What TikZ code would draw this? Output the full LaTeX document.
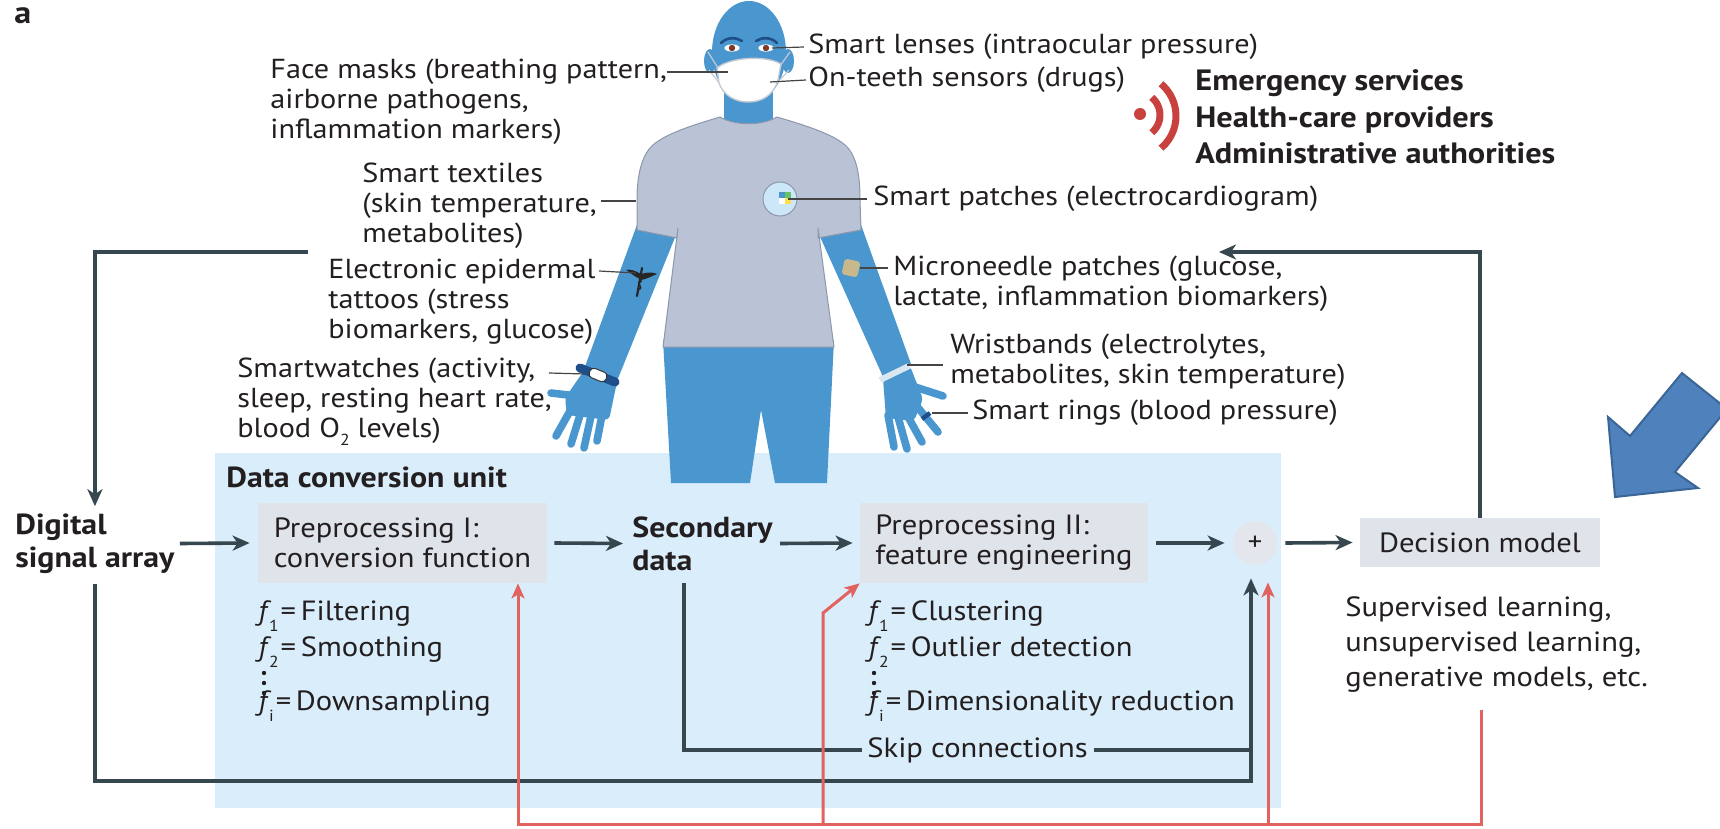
\documentclass[tikz,border=0pt]{standalone}
\usepackage{fontspec}
\setmainfont{PT Sans}[FakeStretch=1.1]
\usetikzlibrary{arrows.meta,calc}

\definecolor{ink}{HTML}{231F20}
\definecolor{skin}{HTML}{4A96CE}
\definecolor{browc}{HTML}{1D4F86}
\definecolor{shirt}{HTML}{B9C3D5}
\definecolor{shirtline}{HTML}{8C97AC}
\definecolor{maskline}{HTML}{C5CBD3}
\definecolor{eyebrown}{HTML}{7A3A2A}
\definecolor{unitbg}{HTML}{DAEDFB}
\definecolor{procfill}{HTML}{DFE3EA}
\definecolor{plusfill}{HTML}{E3E6EC}
\definecolor{dark}{HTML}{37474F}
\definecolor{redl}{HTML}{E2625F}
\definecolor{signalred}{HTML}{C9413E}
\definecolor{leadc}{HTML}{454545}
\definecolor{bluearrow}{HTML}{4F81BD}
\definecolor{bluearrowline}{HTML}{3A6596}
\definecolor{patchbg}{HTML}{CBE7F8}
\definecolor{needle}{HTML}{C8B98C}
\definecolor{bandc}{HTML}{D9E7F1}
\definecolor{watchband}{HTML}{1E4F8A}

\tikzset{
  lbl/.style={font=\fontsize{13.75}{15}\selectfont, text=ink, inner sep=0pt, align=left, anchor=west},
  hdr/.style={font=\bfseries\fontsize{14.5}{16.5}\selectfont, text=ink, inner sep=0pt, align=left, anchor=west},
  txt/.style={font=\fontsize{13.9}{17.5}\selectfont, text=ink, inner sep=0pt, align=left, anchor=west},
  proc/.style={fill=procfill, inner sep=0pt, align=left, text=ink,
    font=\fontsize{13.9}{15}\selectfont},
  conn/.style={draw=dark, line width=1.8pt, -{Stealth[length=8.5pt,width=7.5pt,inset=2.5pt]}},
  plainconn/.style={draw=dark, line width=1.8pt},
  redc/.style={draw=redl, line width=1.5pt},
  redtip/.style={-{Stealth[length=7.5pt,width=6.5pt,inset=2pt]}},
  leader/.style={draw=leadc, line width=0.6pt},
  finger/.style={draw=skin, line width=3.8pt, line cap=round},
}

\newcommand{\fsub}[1]{\textit{f}\kern-1.2pt\raisebox{-0.8ex}{\fontsize{8}{8}\selectfont #1}\kern1pt=\,}

\begin{document}
\begin{tikzpicture}[x=0.5pt,y=-0.5pt]
\fill[white] (0,0) rectangle (1720,829);
\path[use as bounding box] (0,0) rectangle (1720,829);

% panel letter
\node[hdr, font=\bfseries\fontsize{15.5}{15.5}\selectfont] (panel) at (14,16) {a};

% data conversion unit background
\node[fill=unitbg, minimum width=533pt, minimum height=177.5pt, inner sep=0pt,
      anchor=north west] (unit) at (215,453) {};

% ---------------- person ----------------
\begin{scope}[line join=round]
  % arms
  \fill[skin] (638,222) -- (678,230) -- (617,381) -- (583,372) -- cycle;
  \fill[skin] (860,222) -- (911,364) -- (884,379) -- (817,230) -- cycle;
  % left hand
  \fill[skin, rounded corners=2pt] (583,372) -- (617,382) -- (609,420) -- (567,415) -- (565,398) -- cycle;
  \draw[finger] (577,396) -- (551,393);
  \draw[finger] (570,411) -- (556,436);
  \draw[finger] (580,415) -- (571,444);
  \draw[finger] (591,416) -- (584,448);
  \draw[finger] (602,415) -- (597,441);
  % right hand
  \fill[skin, rounded corners=2pt] (883,379) -- (910,366) -- (923,399) -- (914,421) -- (886,418) -- cycle;
  \draw[finger] (912,386) -- (943,396);
  \draw[finger] (888,415) -- (894,447);
  \draw[finger] (898,417) -- (907,449);
  \draw[finger] (907,415) -- (922,442);
  \draw[finger] (915,404) -- (938,432);
  % legs
  \fill[skin] (663,340) -- (834,340) -- (827,483) -- (775,483) -- (761,410)
              -- (750,483) -- (671,483) -- cycle;
  % neck and head
  \fill[skin] (724,85) rectangle (773,125);
  \fill[skin] (749,52) ellipse [x radius=18.5pt, y radius=25.5pt];
  \fill[skin] (710,61) ellipse [x radius=3pt, y radius=6pt];
  \fill[skin] (788,61) ellipse [x radius=3pt, y radius=6pt];
  % eyebrows and eyes
  \draw[browc, line width=1.3pt, line cap=round] (721,43) .. controls (727,37) and (736,37) .. (742,41);
  \draw[browc, line width=1.3pt, line cap=round] (756,41) .. controls (762,37) and (771,37) .. (777,43);
  \fill[white] (732,48) ellipse [x radius=3.8pt, y radius=1.8pt];
  \fill[white] (766,48) ellipse [x radius=3.8pt, y radius=1.8pt];
  \fill[eyebrown] (732,48) circle [radius=1.6pt];
  \fill[eyebrown] (766,48) circle [radius=1.6pt];
  % face mask
  \draw[maskline, line width=0.6pt] (718,68) -- (708,52);
  \draw[maskline, line width=0.6pt] (720,84) -- (709,70);
  \draw[maskline, line width=0.6pt] (780,66) -- (790,52);
  \draw[maskline, line width=0.6pt] (778,82) -- (789,70);
  \filldraw[fill=white, draw=maskline, line width=0.7pt]
    (717,68) .. controls (730,57) and (766,55) .. (781,64)
    -- (778,80) .. controls (773,97) and (760,102) .. (748,102)
    .. controls (735,102) and (723,95) .. (719,83) -- cycle;
  % shirt
  \filldraw[fill=shirt, draw=shirtline, line width=0.5pt]
    (720,117) .. controls (735,126) and (762,126) .. (777,117)
    .. controls (800,124) and (836,134) .. (848,148)
    .. controls (858,160) and (860,180) .. (860,200) -- (861,230)
    -- (818,238) -- (818,228) -- (834,347) -- (663,347) -- (678,228)
    -- (677,238) -- (637,230) -- (637,200)
    .. controls (637,180) and (640,160) .. (650,148)
    .. controls (662,134) and (697,124) .. (720,117) -- cycle;
  % smart patch
  \filldraw[fill=patchbg, draw=shirtline, line width=0.5pt] (780,199) circle [radius=8.5pt];
  \fill[skin] (779,192) rectangle (785,198);
  \fill[green!60!black!60] (785,192) rectangle (791,198);
  \fill[white] (779,198) rectangle (785,204);
  \fill[yellow!70!orange!70] (785,198) rectangle (791,204);
  % microneedle patch
  \fill[needle, rounded corners=1.5pt, rotate around={-12:(851,268)}] (843,260) rectangle (859,276);
  % epidermal tattoo: winged staff with a coiled snake
  \draw[black!85, line width=1.1pt, line cap=round] (642,268) -- (637,296);
  \fill[black!85] (641,274) .. controls (634,270) and (630,269) .. (626,270)
        .. controls (631,273) and (635,277) .. (640,279) -- cycle;
  \fill[black!85] (641,274) .. controls (648,272) and (653,272) .. (657,274)
        .. controls (652,276) and (647,279) .. (641,280) -- cycle;
  \draw[black!85, line width=0.7pt] (642,281) .. controls (633,283) and (646,287) .. (638,290);
  % smartwatch
  \draw[watchband, line width=4.5pt, line cap=round] (580,368) -- (615,382);
  \filldraw[fill=white, draw=black!80, line width=0.5pt, rounded corners=2pt,
            rotate around={-22:(598,375)}] (589,370) rectangle (607,380);
  % wristband
  \draw[bandc, line width=3pt] (880,380) -- (909,366);
  % smart ring
  \draw[watchband, line width=2.2pt] (922,419) -- (930,413);
\end{scope}

% body attachment points for the labels
\coordinate (eye) at (772,48);
\coordinate (maskpt) at (728,72);
\coordinate (teeth) at (770,82);
\coordinate (shirtpt) at (636,201);
\coordinate (tattoo) at (636,273);
\coordinate (watch) at (585,374);
\coordinate (patch) at (788,199);
\coordinate (needlept) at (860,268);
\coordinate (bandpt) at (907,365);
\coordinate (ringpt) at (932,413);

% ---------------- device labels ----------------
\node[lbl] (fm) at (270,102) {Face masks (breathing pattern,\\airborne pathogens,\\inflammation markers)};
\node[lbl] (st) at (362,206) {Smart textiles\\(skin temperature,\\metabolites)};
\node[lbl] (ee) at (328,302) {Electronic epidermal\\tattoos (stress\\biomarkers, glucose)};
\node[lbl] (sw) at (237,402) {Smartwatches (activity,\\sleep, resting heart rate,\\blood O\raisebox{-0.6ex}{\fontsize{8}{8}\selectfont 2} levels)};
\node[lbl] (sl) at (808,47) {Smart lenses (intraocular pressure)};
\node[lbl] (ot) at (808,80) {On-teeth sensors (drugs)};
\node[lbl] (sp) at (873,199) {Smart patches (electrocardiogram)};
\node[lbl] (mn) at (893,284) {Microneedle patches (glucose,\\lactate, inflammation biomarkers)};
\node[lbl] (wb) at (950,362) {Wristbands (electrolytes,\\metabolites, skin temperature)};
\node[lbl] (sr) at (972,413) {Smart rings (blood pressure)};

\coordinate (fmend) at (667,72);
\coordinate (stend) at (601,201);
\coordinate (eeend) at (599,271);
\coordinate (swend) at (549,373);
\coordinate (mnend) at (888,268);
\coordinate (wbend) at (943,365);
\draw[leader] (fmend) -- (maskpt);
\draw[leader] (stend) -- (shirtpt);
\draw[leader] (eeend) -- (tattoo);
\draw[leader] (swend) -- (watch);
\draw[leader] (eye) -- ([xshift=-2pt]sl.west);
\draw[leader] (teeth) -- ([xshift=-1pt]ot.west);
\draw[leader] (patch) -- ([xshift=-3pt]sp.west);
\draw[leader] (needlept) -- (mnend);
\draw[leader] (bandpt) -- (wbend);
\draw[leader] (ringpt) -- ([xshift=-2pt]sr.west);

% ---------------- alert recipients ----------------
\fill[signalred] (1140,114) circle [radius=3pt];
\draw[signalred, line width=3.5pt] (1137,115) ++(50:23) arc [start angle=-50, end angle=50, radius=11.5pt];
\draw[signalred, line width=3.5pt] (1134,116) ++(50:42) arc [start angle=-50, end angle=50, radius=21pt];
\node[hdr, font=\bfseries\fontsize{14.7}{18.25}\selectfont] (alert) at (1195,117)
  {Emergency services\\Health-care providers\\Administrative authorities};

% ---------------- pipeline ----------------
\node[hdr] (unittitle) at (226,477) {Data conversion unit};
\node[hdr] (dsa) at (15,543.5) {Digital\\signal array};
\node[proc, minimum width=144.5pt, minimum height=40pt] (p1) at (402.5,543) {Preprocessing I:\\conversion function};
\node[hdr] (sec) at (632,543.5) {Secondary\\data};
\node[proc, minimum width=144pt, minimum height=40pt] (p2) at (1004,543) {Preprocessing II:\\feature engineering};
\node[circle, fill=plusfill, minimum size=22pt, inner sep=0pt, text=ink,
      font=\fontsize{13}{13}\selectfont] (plus) at (1255,543) {+};
\node[proc, minimum width=120pt, minimum height=24.5pt, align=center] (dm) at (1480,542.5) {Decision model};
\node[txt] (sup) at (1345,645) {Supervised learning,\\unsupervised learning,\\generative models, etc.};

% function lists
\node[txt] (fa1) at (258,616) {\fsub{1}Filtering};
\node[txt] (fa2) at (258,652) {\fsub{2}Smoothing};
\node[txt] (fai) at (258,706) {\fsub{i}Downsampling};
\node[txt] (fb1) at (868,616) {\fsub{1}Clustering};
\node[txt] (fb2) at (868,652) {\fsub{2}Outlier detection};
\node[txt] (fbi) at (868,706) {\fsub{i}Dimensionality reduction};
\foreach \yy in {673,683,693} {
  \fill[ink] (264,\yy) circle [radius=1.1pt];
  \fill[ink] (874,\yy) circle [radius=1.1pt];
}
\node[txt] (skip) at (867,750) {Skip connections};

% main flow
\draw[conn] ([xshift=2.5pt]dsa.east) -- ([xshift=-4pt]p1.west);
\draw[conn] ([xshift=3.5pt]p1.east) -- ([xshift=-4.5pt]sec.west);
\draw[conn] ([xshift=3.5pt]sec.east) -- ([xshift=-3.5pt]p2.west);
\draw[conn] ([xshift=4pt]p2.east) -- ([xshift=-4pt]plus.west);
\draw[conn] ([xshift=4pt]plus.east) -- ([xshift=-3.5pt]dm.west);

% feedback loops
\coordinate (fbL) at (308,252);
\coordinate (fbR) at (1219,252);
\draw[conn] (fbL) -| ([yshift=3.5pt]dsa.north);
\draw[conn] (dm.north) |- (fbR);

% skip connections
\coordinate (sk0) at (684,583);
\coordinate (jn) at (1251,781);
\draw[plainconn] (sk0) |- ([xshift=-2.5pt]skip.west);
\draw[plainconn] ([yshift=-5pt]dsa.south) |- (jn) -- (1251,750);
\draw[conn] ([xshift=3pt]skip.east) -| ([xshift=-2pt,yshift=-6.5pt]plus.south);

% model feedback into the preprocessing stages
\coordinate (rtop) at (1481,710);
\coordinate (rbot) at (518,824);
\coordinate (r2a) at (823,824);
\coordinate (r2b) at (823,613);
\coordinate (r3a) at (1268,824);
\draw[redc, redtip] (rtop) |- (rbot) -- (p1.south -| rbot);
\draw[redc, redtip] (r2a) -- (r2b) -- (p2.south west);
\draw[redc, redtip] (r3a) -- ([xshift=6.5pt,yshift=-8.5pt]plus.south);

% block arrow
\begin{scope}
  \clip (0,0) rectangle (1720,829);
  \filldraw[fill=bluearrow, draw=bluearrowline, line width=1pt, line join=miter]
    (1682,373) -- (1727,409) -- (1675,472) -- (1698,488) -- (1615,497)
    -- (1608,417) -- (1630,436) -- cycle;
\end{scope}
\end{tikzpicture}
\end{document}
